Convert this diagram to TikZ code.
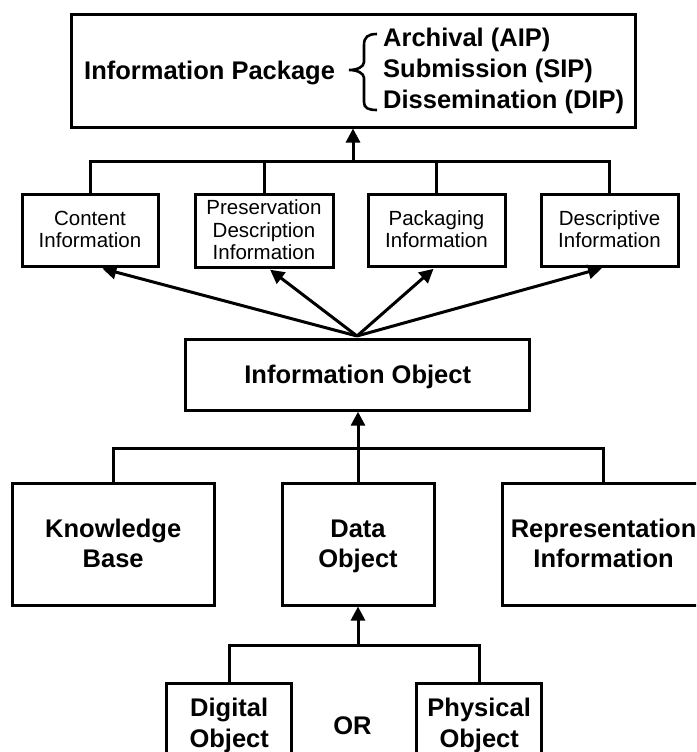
\documentclass[tikz,border=0pt]{standalone}
\usepackage{fontspec}
\setmainfont{Liberation Sans}
\usetikzlibrary{arrows.meta}
\newcommand\bstrut{\rule[-6.7pt]{0pt}{30pt}}
\newcommand\sstrut{\rule[-4.1pt]{0pt}{21.5pt}}
\begin{document}
\begin{tikzpicture}[x=1pt,y=-1pt,
  box/.style={draw,line width=3pt,inner sep=0pt,align=center},
  bigtxt/.style={font=\fontsize{25.5}{30}\selectfont\bfseries},
  smalltxt/.style={font=\fontsize{20.5}{21.3}\selectfont},
  conn/.style={line width=3pt},
  arr/.style={line width=3pt,-{Triangle[length=14pt,width=14pt]}}]
\clip (0,0) rectangle (696,752);
\fill[white] (0,0) rectangle (696,752);
% top package box
\node[box,minimum width=564pt,minimum height=112pt] (pkg) at (353,71) {};
\node[bigtxt,anchor=base west,inner sep=0pt] (ipk) at (84,80) {Information Package};
\node[bigtxt,anchor=base west,inner sep=0pt] (t1) at (383,47) {Archival (AIP)};
\node[bigtxt,anchor=base west,inner sep=0pt] (t2) at (383,77.5) {Submission (SIP)};
\node[bigtxt,anchor=base west,inner sep=0pt] (t3) at (383,108) {Dissemination (DIP)};
\draw[line width=2.6pt] (377,34) .. controls (368,34) and (364,37) .. (364,45) -- (364,62)
  .. controls (364,67) and (357,70) .. (349,70)
  .. controls (357,70) and (364,73) .. (364,78) -- (364,102)
  .. controls (364,108) and (368,110) .. (377,110);
% small boxes
\node[box,smalltxt,minimum width=136pt,minimum height=72pt] (b1) at (90,230) {Content\sstrut\\Information\sstrut};
\node[box,smalltxt,minimum width=138pt,minimum height=73pt] (b2) at (264,230.5) {Preservation\sstrut\\Description\sstrut\\Information\sstrut};
\node[box,smalltxt,minimum width=137pt,minimum height=72pt] (b3) at (436.5,230) {Packaging\sstrut\\Information\sstrut};
\node[box,smalltxt,minimum width=137pt,minimum height=72pt] (b4) at (609.5,230) {Descriptive\sstrut\\Information\sstrut};
\coordinate (j1) at (354,161);
\draw[conn] (b1.north) |- (j1) -| (b4.north);
\draw[conn] (b2.north) -- (b2.north |- j1);
\draw[conn] (b3.north) -- (b3.north |- j1);
\draw[arr] (pkg.south |- j1) -- (pkg.south);
% information object
\node[box,bigtxt,minimum width=344pt,minimum height=71pt] (io) at (357.7,374.7) {Information Object\bstrut};
\coordinate (conv) at (357,336);
\draw[arr,shorten >=4pt] (conv) -- ([xshift=8.5pt]b1.south);
\draw[arr,shorten >=2pt] (conv) -- ([xshift=4.5pt]b2.south);
\draw[arr,shorten >=2pt] (conv) -- ([xshift=-1.5pt]b3.south);
\draw[arr,shorten >=2pt] (conv) -- ([xshift=-5.5pt]b4.south);
% lower row
\node[box,bigtxt,minimum width=202pt,minimum height=121.7pt] (kb) at (113.2,544.2) {Knowledge\bstrut\\Base\bstrut};
\node[box,bigtxt,minimum width=152pt,minimum height=121.7pt] (do) at (358,544.2) {Data\bstrut\\Object\bstrut};
\node[box,bigtxt,minimum width=202pt,minimum height=121.7pt] (ri) at (603.6,544.2) {Representation\bstrut\\Information\bstrut};
\coordinate (j2) at (358,448);
\draw[conn] (kb.north) |- (j2) -| (ri.north);
\draw[conn] (do.north) -- (j2);
\draw[arr] (j2) -- (j2 |- io.south);
% bottom row
\node[box,bigtxt,font=\fontsize{25.5}{27}\selectfont\bfseries,minimum width=125pt,minimum height=81pt] (dg) at (229.2,723.5) {Digital\bstrut\\Object\bstrut};
\node[box,bigtxt,font=\fontsize{25.5}{27}\selectfont\bfseries,minimum width=125pt,minimum height=81pt] (ph) at (479.2,723.5) {Physical\bstrut\\Object\bstrut};
\node[bigtxt,inner sep=0pt,anchor=base] (or) at (352.5,734) {OR};
\coordinate (j3) at (358,645);
\draw[conn] (dg.north) |- (j3) -| (ph.north);
\draw[arr] (j3) -- (j3 |- do.south);
\end{tikzpicture}
\end{document}
